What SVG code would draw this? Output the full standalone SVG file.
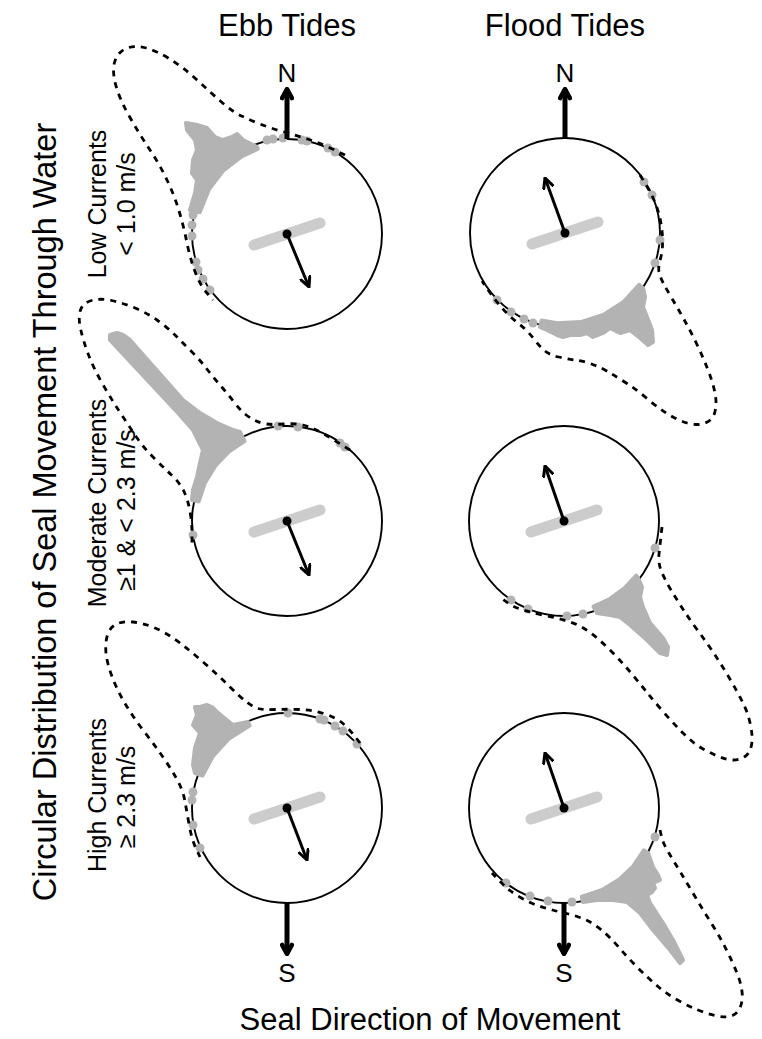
<svg xmlns="http://www.w3.org/2000/svg" width="762" height="1039" viewBox="0 0 762 1039">
<style>
text{font-family:"Liberation Sans",Arial,sans-serif;fill:#000}
.ring{fill:none;stroke:#000;stroke-width:1.9}
.dens{fill:none;stroke:#000;stroke-width:2.8;stroke-dasharray:6 6}
.mass{fill:#b3b3b3;stroke:#b3b3b3;stroke-width:4;stroke-linejoin:round}
.dot{fill:#b3b3b3}
.bar{stroke:#cccccc;stroke-width:11;stroke-linecap:round}
.mean{stroke:#000;stroke-width:3;fill:none;marker-end:url(#ah)}
.ctr{fill:#000}
.compass{stroke:#000;stroke-width:5;fill:none;marker-end:url(#ahb)}
</style>
<defs>
<marker id="ah" viewBox="0 0 10 10" refX="9" refY="5" markerUnits="userSpaceOnUse" markerWidth="12" markerHeight="12" orient="auto">
<path d="M1,1 L9,5 L1,9" fill="none" stroke="#000" stroke-width="2.5" stroke-linecap="round" stroke-linejoin="miter"/>
</marker>
<marker id="ahb" viewBox="0 0 10 10" refX="8.5" refY="5" markerUnits="userSpaceOnUse" markerWidth="14" markerHeight="14" orient="auto">
<path d="M2,1.5 L8.5,5 L2,8.5" fill="none" stroke="#000" stroke-width="3.2" stroke-linecap="round" stroke-linejoin="round"/>
</marker>
</defs>

<g id="labels">
<text x="287" y="36" font-size="31" text-anchor="middle">Ebb Tides</text>
<text x="565" y="36" font-size="31" text-anchor="middle">Flood Tides</text>
<text x="430" y="1030" font-size="31" text-anchor="middle">Seal Direction of Movement</text>
<text transform="translate(56,512) rotate(-90)" font-size="32.5" text-anchor="middle">Circular Distribution of Seal Movement Through Water</text>
<text transform="translate(106,204) rotate(-90)" font-size="25" text-anchor="middle">Low Currents</text>
<text transform="translate(135,204) rotate(-90)" font-size="25" text-anchor="middle">&lt; 1.0 m/s</text>
<text transform="translate(106,503) rotate(-90)" font-size="25" text-anchor="middle">Moderate Currents</text>
<text transform="translate(135,510) rotate(-90)" font-size="25" text-anchor="middle">≥1 &amp; &lt; 2.3 m/s</text>
<text transform="translate(106,795) rotate(-90)" font-size="25" text-anchor="middle">High Currents</text>
<text transform="translate(135,797) rotate(-90)" font-size="25" text-anchor="middle">≥ 2.3 m/s</text>
</g>

<g id="ebb-low">
<circle class="ring" cx="287" cy="234" r="95"/>
<polygon class="mass" points="190,210 192,203 195,193 197,180 192,173 193,160 197,150 195,140 187,130 186,123 197,125 207,128 215,137 223,140 232,137 237,134 243,140 257,147 257.7,148.9 242,156.1 223.4,170.4 209.1,189 199.7,212.2"/>
<g class="dot">
<circle cx="193" cy="215" r="4.5"/><circle cx="192" cy="225" r="4.5"/><circle cx="192" cy="236" r="4.5"/><circle cx="196" cy="262" r="4.5"/><circle cx="198" cy="270" r="4.5"/><circle cx="203" cy="279" r="4.5"/><circle cx="210" cy="290" r="4.5"/><circle cx="267" cy="140" r="4.5"/><circle cx="273" cy="139" r="4.5"/><circle cx="283" cy="138" r="4.5"/><circle cx="302" cy="140" r="4.5"/><circle cx="307" cy="141" r="4.5"/><circle cx="328" cy="148" r="4.5"/><circle cx="335" cy="152" r="4.5"/>
</g>
<path class="dens" d="M345,155 L332.5,149 Q320,143 307.5,139 Q295,135 282.5,131.5 Q270,128 260,124 Q250,120 241.5,116 Q233,112 221.5,102 Q210,92 196.5,79.5 Q183,67 169,58.5 Q155,50 144,47.5 Q133,45 125,49 Q117,53 114.5,62.5 Q112,72 116,86 Q120,100 130,117.5 Q140,135 150,150 Q160,165 167.5,181 Q175,197 179.5,212.5 Q184,228 187,243 Q190,258 195,271.5 Q200,285 206.5,292.5 L213,300"/>
<line class="bar" x1="254" y1="245" x2="320" y2="223"/>
<line class="mean" x1="287" y1="234" x2="309" y2="287"/>
<circle class="ctr" cx="287" cy="234" r="4.5"/>
<line class="compass" x1="287" y1="139" x2="287" y2="89"/>
<text x="287" y="82" font-size="26" text-anchor="middle">N</text>
</g>

<g id="flood-low">
<circle class="ring" cx="565" cy="233" r="95"/>
<polygon class="mass" points="643,288 645,297 643,307 647,317 652,330 653,342 648,345 640,338 630,330 620,333 610,328 603,333 593,337 587,333 580,335 570,335 563,337 557,335 547,330 540,327 541.6,320.4 557.1,323.2 580.7,322.1 603.3,315 623.2,302.3 639.1,284.9"/>
<g class="dot">
<circle cx="644" cy="182" r="4.5"/><circle cx="652" cy="195" r="4.5"/><circle cx="660" cy="240" r="4.5"/><circle cx="655" cy="263" r="4.5"/><circle cx="497" cy="300" r="4.5"/><circle cx="511" cy="312" r="4.5"/><circle cx="524" cy="319" r="4.5"/><circle cx="533" cy="323" r="4.5"/>
</g>
<path class="dens" d="M640,175 L647.5,187.5 Q655,200 658.5,212.5 Q662,225 662.5,237.5 Q663,250 660.5,258.5 Q658,267 659,272 Q660,277 663.5,283.5 Q667,290 672,298.5 Q677,307 683.5,318.5 Q690,330 696.5,343.5 Q703,357 708,370 Q713,383 715,393 Q717,403 715,411.5 Q713,420 705,423 Q697,426 687,423 Q677,420 667,413.5 Q657,407 647,398.5 Q637,390 627,383.5 Q617,377 608.5,372 Q600,367 591.5,364 Q583,361 575,360 Q567,359 558.5,357 Q550,355 545,351 Q540,347 533.5,338.5 Q527,330 518.5,323.5 Q510,317 502.5,308.5 Q495,300 488.5,290.5 L482,281"/>
<line class="bar" x1="532" y1="244" x2="598" y2="222"/>
<line class="mean" x1="565" y1="233" x2="545" y2="178"/>
<circle class="ctr" cx="565" cy="233" r="4.5"/>
<line class="compass" x1="565" y1="138" x2="565" y2="89"/>
<text x="565" y="82" font-size="26" text-anchor="middle">N</text>
</g>

<g id="ebb-moderate">
<circle class="ring" cx="287" cy="521" r="95"/>
<polygon class="mass" points="192,500 193,490 197,477 200,463 203,450 193,430 178,413 110,340 110,335 117,333 123,335 130,340 183,400 200,413 217,423 233,430 240,432 244.5,441.1 228.8,451.7 215.7,465.3 205,482.7 198.7,501.4"/>
<g class="dot">
<circle cx="193" cy="535" r="4.5"/><circle cx="278" cy="426" r="4.5"/><circle cx="298" cy="427" r="4.5"/><circle cx="340" cy="443" r="4.5"/><circle cx="345" cy="447" r="4.5"/>
</g>
<path class="dens" d="M350,450 L331.5,438.5 Q313,427 303,425 Q293,423 283,424 Q273,425 266.5,424 Q260,423 255,420.5 Q250,418 245,414 Q240,410 233.5,401.5 Q227,393 220,385 Q213,377 206.5,368.5 Q200,360 191.5,351.5 Q183,343 175,335 Q167,327 157,320 Q147,313 135,308 Q123,303 111.5,300.5 Q100,298 91.5,300.5 Q83,303 80.5,310 Q78,317 80.5,328.5 Q83,340 88,353.5 Q93,367 101.5,382 Q110,397 118.5,410 Q127,423 135,435 Q143,447 153,457 Q163,467 171.5,475 Q180,483 184,491.5 Q188,500 190,511.5 Q192,523 192,533 L192,543"/>
<line class="bar" x1="254" y1="532" x2="320" y2="510"/>
<line class="mean" x1="287" y1="521" x2="309" y2="575"/>
<circle class="ctr" cx="287" cy="521" r="4.5"/>
</g>

<g id="flood-moderate">
<circle class="ring" cx="564" cy="521" r="95"/>
<polygon class="mass" points="638,578 642,587 640,597 643,607 650,623 663,638 668,647 667,655 660,653 647,640 630,625 620,617 610,615 597,613 593.5,606.6 609.3,599.4 624.6,588.2 636.3,575.5"/>
<g class="dot">
<circle cx="655" cy="548" r="4.5"/><circle cx="511" cy="600" r="4.5"/><circle cx="528" cy="609" r="4.5"/><circle cx="567" cy="616" r="4.5"/><circle cx="583" cy="614" r="4.5"/>
</g>
<path class="dens" d="M662,527 L661,536 Q660,545 659,554 Q658,563 661.5,571.5 Q665,580 671,590 Q677,600 683.5,610 Q690,620 698.5,631.5 Q707,643 715,655 Q723,667 730.5,680 Q738,693 743,703 Q748,713 750.5,725 Q753,737 751.5,745 Q750,753 745,756.5 Q740,760 733.5,760 Q727,760 718.5,756.5 Q710,753 701.5,748 Q693,743 683,733 Q673,723 663,711.5 Q653,700 645,690 Q637,680 628.5,670 Q620,660 610,650 Q600,640 590,632.5 Q580,625 568.5,621.5 Q557,618 545,615.5 Q533,613 523,610 Q513,607 506.5,602 L500,597"/>
<line class="bar" x1="531" y1="532" x2="597" y2="510"/>
<line class="mean" x1="564" y1="521" x2="545" y2="466"/>
<circle class="ctr" cx="564" cy="521" r="4.5"/>
</g>

<g id="ebb-high">
<circle class="ring" cx="287" cy="808" r="95"/>
<polygon class="mass" points="248,722 233,725 223,717 217,712 212,707 207,705 200,707 195,707 197,715 193,725 200,733 195,748 193,765 195,773 202.5,775.6 212.9,756.1 228.8,738.7 249.6,725.5"/>
<g class="dot">
<circle cx="193" cy="792" r="4.5"/><circle cx="192" cy="800" r="4.5"/><circle cx="193" cy="825" r="4.5"/><circle cx="200" cy="848" r="4.5"/><circle cx="288" cy="713" r="4.5"/><circle cx="320" cy="719" r="4.5"/><circle cx="324" cy="720" r="4.5"/><circle cx="335" cy="726" r="4.5"/><circle cx="343" cy="731" r="4.5"/><circle cx="357" cy="744" r="4.5"/>
</g>
<path class="dens" d="M360,743 L355,736.5 Q350,730 343.5,724 Q337,718 325,714 Q313,710 300,709.5 Q287,709 275,709.5 Q263,710 258,708.5 Q253,707 246.5,702 Q240,697 230,687 Q220,677 206.5,665 Q193,653 180,643 Q167,633 155,628 Q143,623 133,622 Q123,621 116.5,624 Q110,627 107.5,635 Q105,643 106,653 Q107,663 112,676.5 Q117,690 125,703.5 Q133,717 143,730 Q153,743 161.5,755 Q170,767 176.5,778.5 Q183,790 185,801.5 Q187,813 189.5,826.5 Q192,840 196,848.5 L200,857"/>
<line class="bar" x1="254" y1="819" x2="320" y2="797"/>
<line class="mean" x1="287" y1="808" x2="307" y2="860"/>
<circle class="ctr" cx="287" cy="808" r="4.5"/>
<line class="compass" x1="287" y1="903" x2="287" y2="954"/>
<text x="287" y="982" font-size="26" text-anchor="middle">S</text>
</g>

<g id="flood-high">
<circle class="ring" cx="564" cy="808" r="95"/>
<polygon class="mass" points="648,853 653,867 658,875 660,880 653,883 655,888 652,892 647,895 650,903 663,923 673,940 683,960 680,963 670,950 653,930 640,913 627,902 613,900 597,900 583,902 581.9,896.7 602.3,890 619.7,879.3 633.3,866.2 643.9,850.4"/>
<g class="dot">
<circle cx="655" cy="837" r="4.5"/><circle cx="506" cy="883" r="4.5"/><circle cx="530" cy="896" r="4.5"/><circle cx="548" cy="901" r="4.5"/><circle cx="572" cy="902" r="4.5"/>
</g>
<path class="dens" d="M660,830 L661.5,836.5 Q663,843 668,851.5 Q673,860 680,871.5 Q687,883 695,896.5 Q703,910 711.5,923.5 Q720,937 726.5,950 Q733,963 737,973 Q741,983 742,991.5 Q743,1000 740.5,1006.5 Q738,1013 732.5,1015.5 Q727,1018 717.5,1016 Q708,1014 698,1010 Q688,1006 677.5,1000 Q667,994 658,986.5 Q649,979 638.5,968.5 Q628,958 619,947.5 Q610,937 601.5,930 Q593,923 585,919.5 Q577,916 568.5,914 Q560,912 552.5,910 Q545,908 537.5,905.5 Q530,903 521.5,898 Q513,893 506.5,888 L492,873"/>
<line class="bar" x1="531" y1="819" x2="597" y2="797"/>
<line class="mean" x1="564" y1="808" x2="545" y2="753"/>
<circle class="ctr" cx="564" cy="808" r="4.5"/>
<line class="compass" x1="564" y1="903" x2="564" y2="954"/>
<text x="564" y="982" font-size="26" text-anchor="middle">S</text>
</g>
</svg>
